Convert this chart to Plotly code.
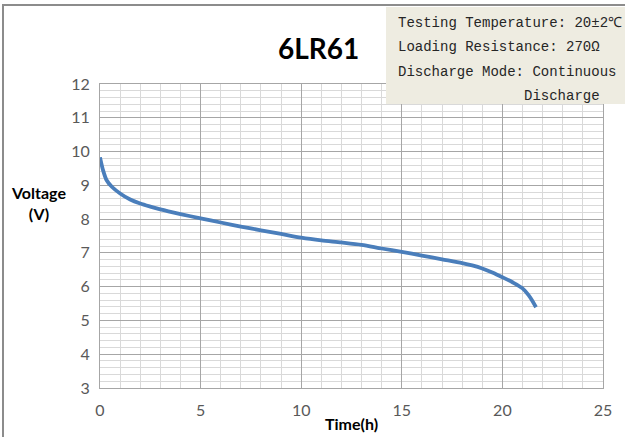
import plotly.graph_objects as go

# Discharge curve
time_h = [0, 0.15, 0.33, 0.6, 1.0, 1.5, 2.0, 2.5, 3.0, 4.0, 5.0, 6.0, 7.0, 8.0, 9.0, 10.0,
          11.0, 12.0, 13.0, 14.0, 15.0, 16.0, 17.0, 18.0, 18.5, 19.0, 19.5, 20.0, 20.5, 21.0,
          21.3, 21.5, 21.67]
voltage = [9.83, 9.45, 9.15, 8.95, 8.76, 8.58, 8.46, 8.37, 8.29, 8.15, 8.02, 7.9, 7.78, 7.67, 7.56, 7.45,
           7.37, 7.31, 7.24, 7.13, 7.03, 6.92, 6.81, 6.7, 6.63, 6.54, 6.42, 6.28, 6.13, 5.95,
           5.75, 5.57, 5.39]

title = "6LR61"
info_lines = [
    "Testing Temperature: 20±2℃",
    "Loading Resistance: 270Ω",
    "Discharge Mode: Continuous",
]
info_last = "Discharge"

W, H = 625, 437
L, R, T, B = 100, 22, 84, 49
pw, ph = W - L - R, H - T - B


def px_x(p):
    return (p - L) / pw


def px_y(p):
    return (H - B - p) / ph


fig = go.Figure(go.Scatter(
    x=time_h, y=voltage, mode="lines",
    line=dict(color="#4a7ebb", width=3.8, shape="spline", smoothing=0.8),
    showlegend=False,
))

tick_font = dict(family="Lato, sans-serif", size=16, color="#595959")
fig.update_xaxes(
    range=[0, 25], dtick=5, tickfont=tick_font,
    showgrid=True, gridcolor="#a6a6a6", gridwidth=1,
    minor=dict(dtick=1, showgrid=True, gridcolor="#d9d9d9", gridwidth=1),
    showline=True, mirror=True, linecolor="#a6a6a6", linewidth=1,
    zeroline=False, ticks="", ticklabelstandoff=8,
)
fig.update_yaxes(
    range=[3, 12], dtick=1, tickfont=tick_font,
    showgrid=True, gridcolor="#a6a6a6", gridwidth=1,
    minor=dict(dtick=0.2, showgrid=True, gridcolor="#d9d9d9", gridwidth=1),
    showline=True, mirror=True, linecolor="#a6a6a6", linewidth=1,
    zeroline=False, ticks="", ticklabelstandoff=6,
)

shapes = [
    # outer frame
    dict(type="rect", xref="paper", yref="paper",
         x0=px_x(3), x1=px_x(700), y0=px_y(500), y1=px_y(5),
         line=dict(color="#8c8c8c", width=2), fillcolor="rgba(0,0,0,0)", layer="above"),
    # info box
    dict(type="rect", xref="paper", yref="paper",
         x0=px_x(386), x1=px_x(640), y0=px_y(104), y1=px_y(7),
         line=dict(width=0), fillcolor="#eeece1", layer="above"),
]

annotations = [
    dict(text=f"<b>{title}</b>", xref="paper", yref="paper", x=px_x(318), y=px_y(48),
         xanchor="center", yanchor="middle", showarrow=False,
         font=dict(family="Lato, sans-serif", size=28, color="#000000")),
    dict(text="<b>Voltage</b><br><b>(V)</b>", xref="paper", yref="paper",
         x=px_x(38), y=px_y(203), xanchor="center", yanchor="middle", showarrow=False, align="center",
         font=dict(family="Lato, sans-serif", size=16, color="#000000")),
    dict(text="<b>Time(h)</b>", xref="paper", yref="paper", x=px_x(351), y=px_y(423),
         xanchor="center", yanchor="middle", showarrow=False,
         font=dict(family="Lato, sans-serif", size=16, color="#000000")),
]
info_font = dict(family="Liberation Mono, monospace", size=14, color="#262626")
for i, line in enumerate(info_lines):
    annotations.append(dict(text=line, xref="paper", yref="paper", x=px_x(396), y=px_y(23 + 24.5 * i),
                            xanchor="left", yanchor="middle", showarrow=False, font=info_font))
annotations.append(dict(text=info_last, xref="paper", yref="paper", x=px_x(522), y=px_y(96),
                        xanchor="left", yanchor="middle", showarrow=False, font=info_font))

fig.update_layout(
    width=W, height=H,
    margin=dict(l=L, r=R, t=T, b=B),
    paper_bgcolor="white", plot_bgcolor="white",
    shapes=shapes, annotations=annotations,
)

fig.write_html("out.html", config={"displayModeBar": False},
               post_script="document.body.style.margin='0';")
